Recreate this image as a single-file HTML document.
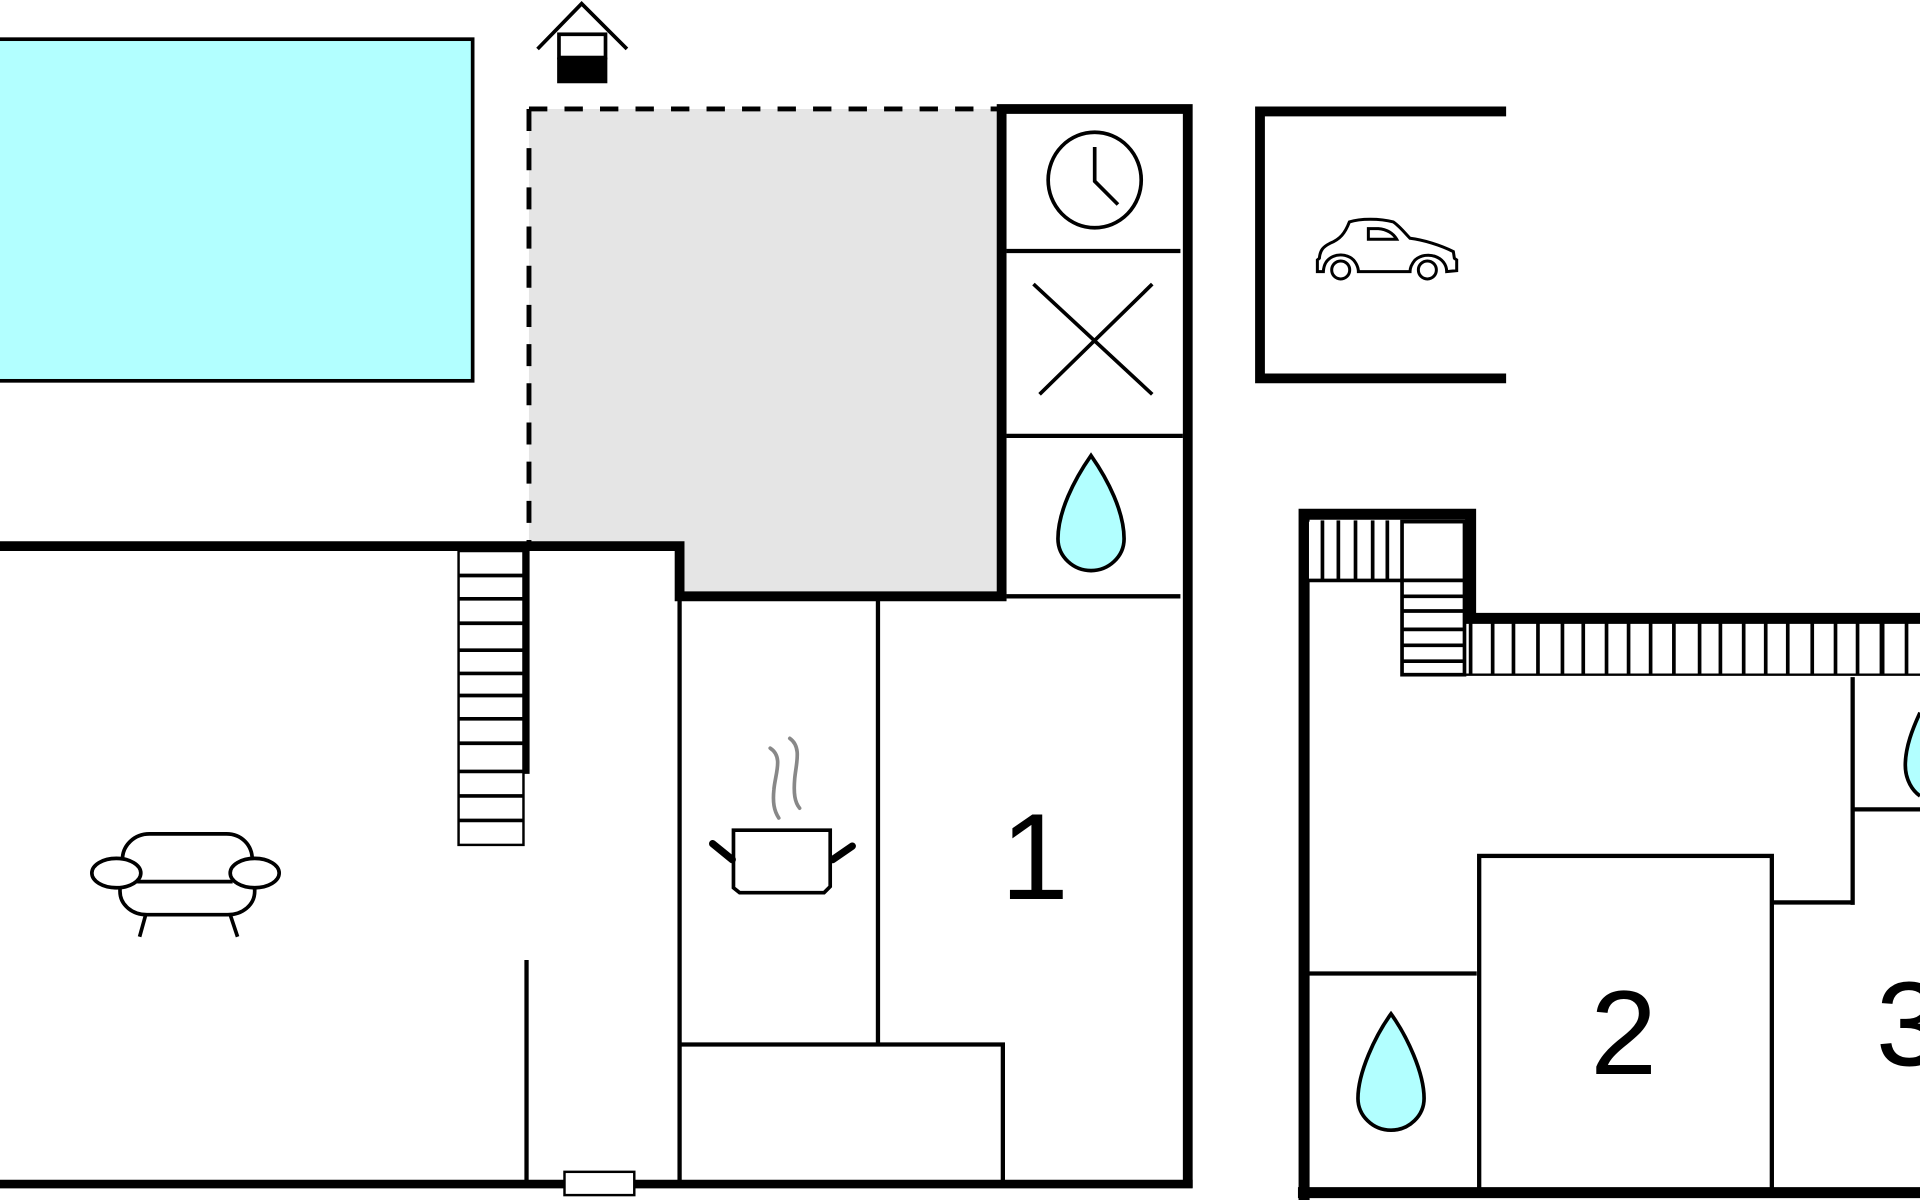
<!DOCTYPE html>
<html><head><meta charset="utf-8"><style>
html,body{margin:0;padding:0;background:#fff;width:1920px;height:1200px;overflow:hidden}
svg{display:block}
text{font-family:"Liberation Sans",Arial,sans-serif}
</style></head><body>
<svg width="1920" height="1200" viewBox="0 0 1568 980" xmlns="http://www.w3.org/2000/svg">
<rect width="1568" height="980" fill="#fff"/>
<rect x="-5" y="32" width="391" height="279" fill="#b2ffff" stroke="#000" stroke-width="3"/>
<polyline points="439,40 475,3 512,40" fill="none" stroke="#000" stroke-width="3"/>
<rect x="455" y="47" width="41" height="21" fill="#000"/>
<rect x="456.5" y="28" width="38" height="19" fill="#fff" stroke="#000" stroke-width="3"/>
<path d="M432,89 H818 V487 H555 V446 H432 Z" fill="#e5e5e5"/>
<line x1="432" y1="89" x2="818" y2="89" stroke="#000" stroke-width="4" stroke-dasharray="15,14"/>
<line x1="432" y1="89" x2="432" y2="446" stroke="#000" stroke-width="4" stroke-dasharray="18,14"/>
<polyline points="818,490 818,89 970,89 970,970" fill="none" stroke="#000" stroke-width="8"/>
<line x1="822" y1="205" x2="964" y2="205" stroke="#000" stroke-width="3.5"/>
<line x1="822" y1="356" x2="966" y2="356" stroke="#000" stroke-width="3.5"/>
<line x1="822" y1="487" x2="964" y2="487" stroke="#000" stroke-width="3.5"/>
<ellipse cx="894" cy="147" rx="38" ry="39" fill="#fff" stroke="#000" stroke-width="3"/>
<polyline points="894,120 894,148 913,167" fill="none" stroke="#000" stroke-width="3"/>
<line x1="844" y1="232" x2="941" y2="322" stroke="#000" stroke-width="3"/>
<line x1="941" y1="232" x2="849" y2="322" stroke="#000" stroke-width="3"/>
<path d="M891,372 C877,392 864,418 864,440 C864,455 877,466 891,466 C905,466 918,455 918,440 C918,418 905,392 891,372 Z" fill="#b2ffff" stroke="#000" stroke-width="3"/>
<polyline points="0,446 555,446 555,487 822,487" fill="none" stroke="#000" stroke-width="8"/>
<line x1="0" y1="967" x2="974" y2="967" stroke="#000" stroke-width="7"/>
<rect x="461" y="957" width="57" height="19" fill="#fff" stroke="#000" stroke-width="2"/>
<rect x="374.5" y="450" width="53" height="240" fill="#fff" stroke="#000" stroke-width="2"/>
<g stroke="#000" stroke-width="3">
<line x1="374" y1="470" x2="428" y2="470"/><line x1="374" y1="489" x2="428" y2="489"/>
<line x1="374" y1="509" x2="428" y2="509"/><line x1="374" y1="531" x2="428" y2="531"/>
<line x1="374" y1="550" x2="428" y2="550"/><line x1="374" y1="568" x2="428" y2="568"/>
<line x1="374" y1="587" x2="428" y2="587"/><line x1="374" y1="607" x2="428" y2="607"/>
<line x1="374" y1="630" x2="428" y2="630"/><line x1="374" y1="650" x2="428" y2="650"/>
<line x1="374" y1="670" x2="428" y2="670"/>
</g>
<line x1="430" y1="446" x2="430" y2="632" stroke="#000" stroke-width="5"/>
<line x1="430" y1="784" x2="430" y2="970" stroke="#000" stroke-width="3.5"/>
<g stroke="#000" stroke-width="3.5" fill="none">
<line x1="555" y1="487" x2="555" y2="967"/>
<line x1="717" y1="490" x2="717" y2="853"/>
<polyline points="555,853 819,853 819,967"/>
</g>
<g fill="none" stroke="#000" stroke-width="3">
<path d="M100,702 C100,690 110,681 122,681 H185 C197,681 206,690 206,702"/>
<path d="M98,724 V728 C98,739 108,747 120,747 H186 C198,747 208,739 208,728 V724"/>
<line x1="112" y1="720" x2="190" y2="720"/>
<ellipse cx="95" cy="713" rx="20" ry="12" fill="#fff"/>
<ellipse cx="208" cy="713" rx="20" ry="12" fill="#fff"/>
<line x1="119" y1="747" x2="114" y2="765"/><line x1="188" y1="747" x2="194" y2="765"/>
</g>
<path d="M629,611 C640,618 633,632 632,645 C631,655 632,662 636,668" fill="none" stroke="#888" stroke-width="3" stroke-linecap="round"/>
<path d="M645,603 C655,610 650,624 649,636 C648,648 649,655 653,660" fill="none" stroke="#888" stroke-width="3" stroke-linecap="round"/>
<path d="M599,678 H678 V724 L673,729 H604 L599,725 Z" fill="#fff" stroke="#000" stroke-width="3"/>
<line x1="582" y1="689" x2="598" y2="702" stroke="#000" stroke-width="6" stroke-linecap="round"/>
<line x1="696" y1="691" x2="680" y2="702" stroke="#000" stroke-width="6" stroke-linecap="round"/>
<text x="845" y="734" font-size="100" text-anchor="middle" fill="#000">1</text>
<polyline points="1230,91 1029,91 1029,309 1230,309" fill="none" stroke="#000" stroke-width="8"/>
<g transform="translate(1061.7,163.3) scale(0.2722)" fill="none" stroke="#000" stroke-width="9">
<path d="M70,215 H52 V180 L58,175 C60,150 70,140 90,130 C120,118 135,100 148,66 C180,55 240,55 280,66 C300,80 315,100 330,115 C370,120 420,135 460,155 L463,175 L470,180 V212 L440,215 C440,170 380,150 345,180 C335,192 330,205 330,215 H175 C175,200 165,180 150,172 C115,155 72,170 70,215 Z"/>
<path d="M205,86 H235 C260,88 280,100 290,118 H205 Z"/>
<circle cx="122" cy="210" r="27"/>
<circle cx="382" cy="210" r="27"/>
</g>
<g fill="none" stroke="#000">
<polyline points="1065,980 1065,420 1201,420 1201,505 1568,505" stroke-width="9"/>
<line x1="1060" y1="974" x2="1568" y2="974" stroke-width="9"/>
</g>
<rect x="1069" y="426" width="128" height="48" fill="#fff" stroke="none"/>
<g stroke="#000" stroke-width="3">
<line x1="1080" y1="425" x2="1080" y2="474"/><line x1="1093" y1="425" x2="1093" y2="474"/>
<line x1="1107" y1="425" x2="1107" y2="474"/><line x1="1121" y1="425" x2="1121" y2="474"/>
<line x1="1133" y1="425" x2="1133" y2="474"/>
<line x1="1066" y1="474" x2="1197" y2="474"/>
</g>
<rect x="1145" y="426" width="51" height="48" fill="#fff" stroke="#000" stroke-width="3"/>
<rect x="1145" y="474" width="51" height="77" fill="#fff" stroke="#000" stroke-width="3"/>
<g stroke="#000" stroke-width="3">
<line x1="1145" y1="487" x2="1197" y2="487"/><line x1="1145" y1="499" x2="1197" y2="499"/>
<line x1="1145" y1="514" x2="1197" y2="514"/><line x1="1145" y1="527" x2="1197" y2="527"/>
<line x1="1145" y1="540" x2="1197" y2="540"/>
</g>
<line x1="1197" y1="551" x2="1568" y2="551" stroke="#000" stroke-width="2"/>
<g stroke="#000" stroke-width="3">
<line x1="1201" y1="508" x2="1201" y2="551"/><line x1="1219" y1="508" x2="1219" y2="551"/>
<line x1="1236" y1="508" x2="1236" y2="551"/><line x1="1256" y1="508" x2="1256" y2="551"/>
<line x1="1276" y1="508" x2="1276" y2="551"/><line x1="1293" y1="508" x2="1293" y2="551"/>
<line x1="1312" y1="508" x2="1312" y2="551"/><line x1="1330" y1="508" x2="1330" y2="551"/>
<line x1="1348" y1="508" x2="1348" y2="551"/><line x1="1367" y1="508" x2="1367" y2="551"/>
<line x1="1388" y1="508" x2="1388" y2="551"/><line x1="1405" y1="508" x2="1405" y2="551"/>
<line x1="1424" y1="508" x2="1424" y2="551"/><line x1="1442" y1="508" x2="1442" y2="551"/>
<line x1="1460" y1="508" x2="1460" y2="551"/><line x1="1480" y1="508" x2="1480" y2="551"/>
<line x1="1499" y1="508" x2="1499" y2="551"/><line x1="1517" y1="508" x2="1517" y2="551"/>
<line x1="1537" y1="508" x2="1537" y2="551" stroke-width="4"/><line x1="1557" y1="508" x2="1557" y2="551"/>
</g>
<g stroke="#000" stroke-width="3.5" fill="none">
<line x1="1513" y1="553" x2="1513" y2="739"/>
<line x1="1513" y1="661" x2="1568" y2="661"/>
<polyline points="1447,737 1513,737"/>
<rect x="1208" y="699" width="239" height="275"/>
<line x1="1065" y1="795" x2="1206" y2="795"/>
</g>
<path d="M1136,828 C1123,846 1109,876 1109,897 C1109,911 1121,923 1136,923 C1151,923 1163,911 1163,897 C1163,876 1149,846 1136,828 Z" fill="#b2ffff" stroke="#000" stroke-width="3"/>
<path d="M1568,582 C1562,595 1556,610 1556,625 C1556,637 1562,646 1568,650" fill="#b2ffff" stroke="#000" stroke-width="3"/>
<text x="1326" y="877" font-size="98" text-anchor="middle" fill="#000">2</text>
<text x="1532" y="870" font-size="98" fill="#000">3</text>
</svg>
</body></html>
